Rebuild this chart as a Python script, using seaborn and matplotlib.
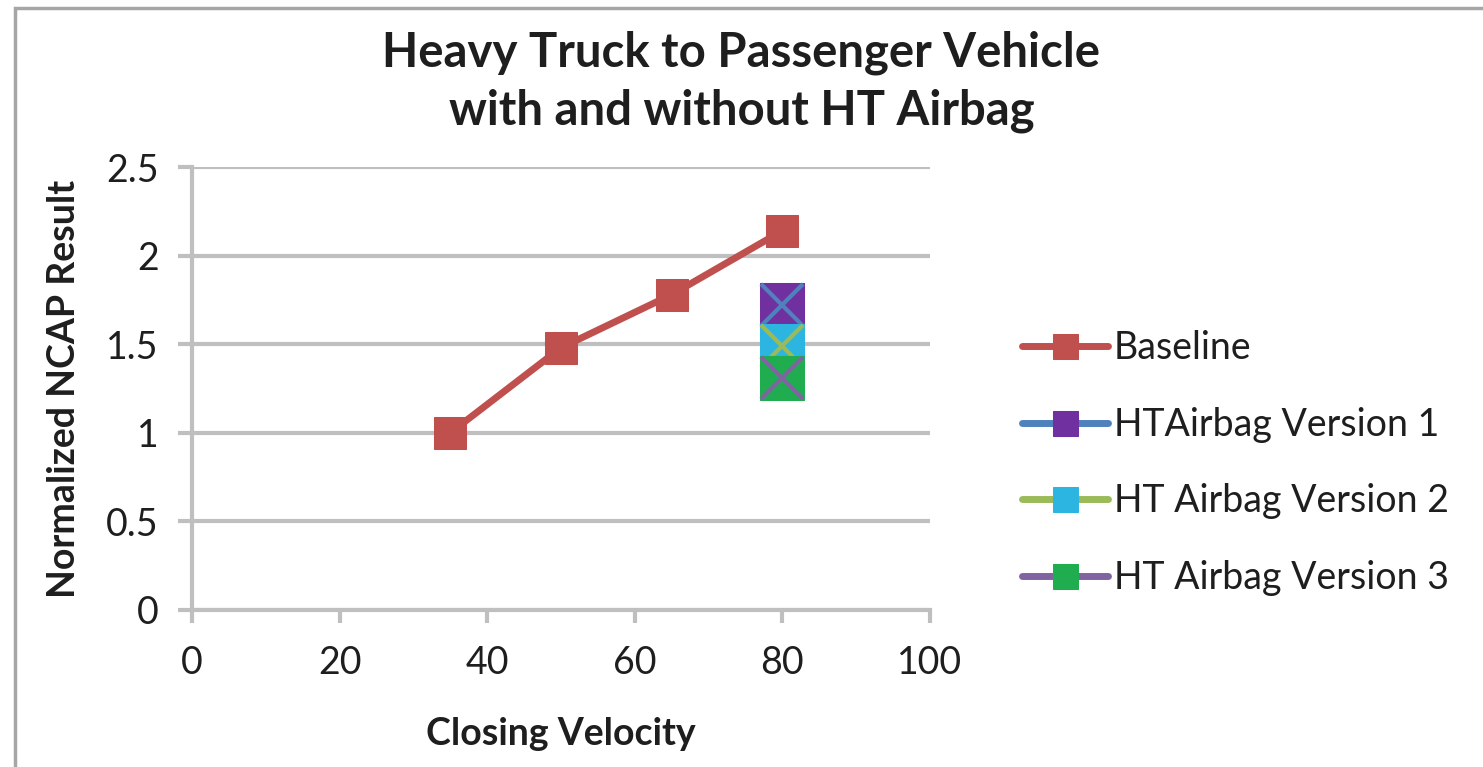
import matplotlib
matplotlib.use('Agg')
import matplotlib.pyplot as plt
import seaborn as sns
from matplotlib.patches import Rectangle

# data
baseline_x = [35, 50, 65, 80]
baseline_y = [1.0, 1.48, 1.78, 2.14]

version_names = ['HTAirbag Version 1', 'HT Airbag Version 2', 'HT Airbag Version 3']
version_x = [80, 80, 80]
version_y = [1.72, 1.49, 1.31]

x_ticks = [0, 20, 40, 60, 80, 100]
y_ticks = [0, 0.5, 1, 1.5, 2, 2.5]

sns.set_style('white')
plt.rcParams['font.family'] = ['Lato', 'DejaVu Sans']

fig = plt.figure(figsize=(14.83, 7.67), dpi=100)
ax = fig.add_axes([192 / 1483, 1 - 610 / 767, (930 - 192) / 1483, (610 - 167) / 767])

# gray frame round the chart, like the excel chart area
fig.patches.append(Rectangle((15 / 1483, -0.05), 1.1, 1 - 8 / 767 + 0.05, transform=fig.transFigure,
                             fill=False, edgecolor='#a6a6a6', linewidth=2.5, zorder=0))

txt = '#1e1e1e'

# Baseline
sns.lineplot(x=baseline_x, y=baseline_y, ax=ax, color='#c0504d', linewidth=5,
             marker='s', markersize=23, markerfacecolor='#c0504d', markeredgecolor='#c0504d',
             label='Baseline', zorder=3)

line_colors = ['#4f81bd', '#9bbb59', '#8064a2']
marker_colors = ['#7030a0', '#2cb5e0', '#1fad4f']
for i in range(3):
    sns.lineplot(x=[version_x[i]], y=[version_y[i]], ax=ax, color=line_colors[i], linewidth=5,
                 marker='s', markersize=32, markerfacecolor=marker_colors[i],
                 markeredgecolor=marker_colors[i], label=version_names[i], zorder=4 + i)
    ax.plot([version_x[i]], [version_y[i]], marker='x', markersize=30, markeredgewidth=3,
            color=line_colors[i], linestyle='none', zorder=4 + i, label='_nolegend_')

ax.set_xlim(0, 100)
ax.set_ylim(0, 2.5)
ax.set_xticks(x_ticks)
ax.set_xticklabels([str(v) for v in x_ticks])
ax.set_yticks(y_ticks)
ax.set_yticklabels(['0', '0.5', '1', '1.5', '2', '2.5'])

ax.grid(axis='y', color='#bfbfbf', linewidth=3)
ax.grid(axis='x', visible=False)
ax.set_axisbelow(True)
for s in ['top', 'right']:
    ax.spines[s].set_visible(False)
for s in ['left', 'bottom']:
    ax.spines[s].set_color('#bfbfbf')
    ax.spines[s].set_linewidth(3)

ax.tick_params(axis='x', direction='out', length=9, width=3, color='#bfbfbf', pad=16,
               labelsize=27, labelcolor=txt, bottom=True)
ax.tick_params(axis='y', direction='out', length=10, width=3, color='#bfbfbf', pad=14,
               labelsize=27, labelcolor=txt, left=True)

ax.set_xlabel('Closing Velocity', fontsize=27, fontweight='bold', color=txt, labelpad=26)
ax.set_ylabel('Normalized NCAP Result', fontsize=27, fontweight='bold', color=txt, labelpad=18)

fig.text(0.5, 1 - 82 / 767, 'Heavy Truck to Passenger Vehicle\nwith and without HT Airbag',
         ha='center', va='center', fontsize=34, fontweight='bold', color=txt, linespacing=1.38)

leg = ax.legend(loc='center left', bbox_to_anchor=(988 / 1483, 1 - 463 / 767),
                bbox_transform=fig.transFigure, frameon=False, fontsize=27,
                handlelength=2.3, handletextpad=0.15, labelspacing=1.08, markerscale=0.8)
for t in leg.get_texts():
    t.set_color(txt)
for h in leg.get_lines():
    h.set_markersize(18)

plt.savefig('out.png', dpi=100)
plt.close()
